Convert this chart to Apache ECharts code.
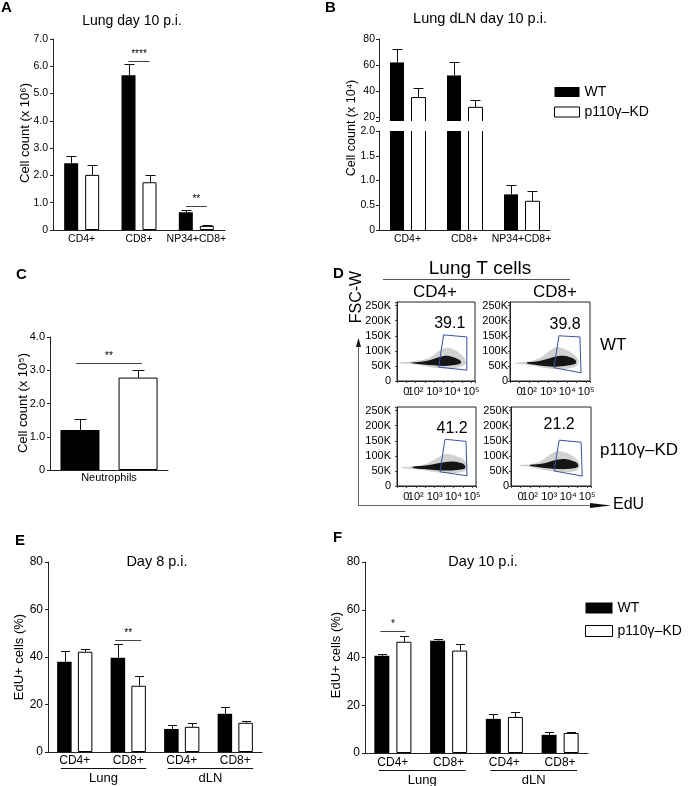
<!DOCTYPE html>
<html><head><meta charset="utf-8">
<script src="https://cdn.jsdelivr.net/npm/echarts@6/dist/echarts.min.js"></script>
<style>html,body{margin:0;padding:0;background:#fff}#c{width:689px;height:786px}</style>
</head><body><div id="c"></div>
<script>
// ---------------- DATA ----------------
const seriesNames = ['WT', 'p110γ–KD'];

// Panel A : Lung day 10 p.i. (x 10^6)
const catsA = ['CD4+', 'CD8+', 'NP34+CD8+'];
const aWT = [2.45, 5.67, 0.65];
const aWTErr = [2.70, 6.07, 0.72];
const aKD = [2.02, 1.75, 0.15];
const aKDErr = [2.40, 2.00, 0.17];
const aSig = [[1, 6.2, '****'], [2, 0.88, '**']];

// Panel B : Lung dLN day 10 p.i. (x 10^4), broken axis
const catsB = ['CD4+', 'CD8+', 'NP34+CD8+'];
const bWT = [62, 52, 0.72];
const bWTErr = [72, 62, 0.90];
const bKD = [35, 27.5, 0.58];
const bKDErr = [42, 33.5, 0.78];
const bUpperLabels = [20, 40, 60, 80];
const bUpperTicks = [17, 20, 40, 60, 80];

// Panel C : Neutrophils (x 10^5)
const catsC = ['Neutrophils'];
const cWT = [1.2];
const cWTErr = [1.52];
const cKD = [2.78];
const cKDErr = [3.02];
const cSig = [[0, 3.22, '**']];

// Panel D : flow plots (x: EdU decades, y: FSC-W in K)
const flowXTickPos = [1.5, 2, 3, 4, 5];
const flowXTickText = ['0', '10²', '10³', '10⁴', '10⁵'];
const flowYTicks = [0, 50, 100, 150, 200, 250];
const flowCols = ['CD4+', 'CD8+'];
const flowRows = ['WT', 'p110γ–KD'];
const gateCD4WT = [[3.51, 153], [4.76, 146], [4.76, 36], [3.24, 46]];
const gateCD8WT = [[3.57, 150], [4.67, 146], [4.73, 27], [3.31, 44]];
const gateCD4KD = [[3.55, 155], [4.67, 148], [4.72, 34], [3.29, 47]];
const gateCD8KD = [[3.53, 152], [4.68, 145], [4.74, 33], [3.26, 50]];
const coreCD4WT = [[1.75,61],[2.3,64],[2.8,70],[3.2,78],[3.6,84],[4.0,80],[4.3,72],[4.45,64],[4.4,57],[4.0,52],[3.5,50],[3.0,52],[2.4,55],[1.9,58]];
const haloCD4WT = [[1.15,62],[1.8,65],[2.5,72],[3.0,88],[3.4,105],[3.8,110],[4.3,95],[4.65,74],[4.7,56],[4.3,45],[3.6,42],[2.8,46],[2.2,53],[1.6,57],[1.15,59]];
const coreCD8WT = [[1.9,62],[2.4,65],[2.9,72],[3.3,80],[3.8,84],[4.2,78],[4.45,68],[4.45,58],[4.0,51],[3.4,47],[2.8,50],[2.3,54],[1.9,58]];
const haloCD8WT = [[1.25,60],[2.0,65],[2.6,78],[3.0,96],[3.4,112],[3.9,105],[4.4,86],[4.6,68],[4.5,50],[4.0,41],[3.3,40],[2.6,46],[2.0,53],[1.25,57]];
const coreCD4KD = [[1.85,64],[2.4,67],[3.0,73],[3.5,79],[4.0,81],[4.4,76],[4.6,69],[4.6,58],[4.2,53],[3.6,51],[3.0,53],[2.4,56],[1.85,60]];
const haloCD4KD = [[1.25,62],[2.0,66],[2.6,75],[3.1,92],[3.6,106],[4.1,100],[4.6,84],[4.75,64],[4.6,49],[3.9,43],[3.2,45],[2.5,51],[1.9,56],[1.25,59]];
const coreCD8KD = [[2.0,70],[2.5,73],[3.0,80],[3.4,87],[3.9,89],[4.3,82],[4.5,74],[4.5,63],[4.1,57],[3.5,56],[2.9,59],[2.4,63],[2.0,66]];
const haloCD8KD = [[1.45,70],[2.1,73],[2.6,84],[3.0,102],[3.4,115],[3.9,110],[4.4,92],[4.6,74],[4.5,53],[3.9,46],[3.2,48],[2.5,56],[2.0,63],[1.45,67]];
const pctCD4WT = [[3.84, 189, '39.1']];
const pctCD8WT = [[3.89, 187, '39.8']];
const pctCD4KD = [[3.93, 192, '41.2']];
const pctCD8KD = [[3.53, 205, '21.2']];

// Panels E / F : EdU+ cells (%)
const catsEF = ['CD4+', 'CD8+', 'CD4+', 'CD8+'];
const tissueGroups = [['Lung', 0, 1], ['dLN', 2, 3]];
const eWT = [38.0, 39.7, 9.7, 16.1];
const eWTErr = [42.7, 45.5, 11.2, 19.1];
const eKD = [42.2, 27.9, 10.6, 12.3];
const eKDErr = [43.3, 31.8, 12.2, 13.0];
const eSig = [[1, 47.2, '**']];
const fWT = [40.7, 47.0, 14.3, 7.6];
const fWTErr = [41.4, 47.8, 16.3, 8.8];
const fKD = [46.6, 42.9, 15.1, 8.4];
const fKDErr = [49.2, 45.6, 17.2, 8.9];
const fSig = [[0, 51, '*']];

// ---------------- CHART ----------------
const FONT = "'Liberation Sans', Arial, Helvetica, sans-serif";
const AXC = '#222';
const chart = echarts.init(document.getElementById('c'), null, {renderer: 'canvas', width: 689, height: 786});

const fmt1 = v => v === 0 ? '0' : v.toFixed(1);
const efIds = catsEF.map((c, i) => i + '_' + c);
const efFmt = (v, i) => catsEF[i];

function xCat(gi, data, o) {
  return {type: 'category', gridIndex: gi, data: data,
    axisLine: {show: true, lineStyle: {color: AXC, width: 1}}, axisTick: {show: false},
    axisLabel: {fontSize: o.fs, color: '#000', margin: o.margin, interval: 0, fontFamily: FONT, formatter: o.fmt},
    splitLine: {show: false}};
}
function yVal(gi, min, max, interval, o) {
  const ax = {type: 'value', gridIndex: gi, min: min, max: max,
    axisLine: {show: true, lineStyle: {color: AXC, width: 1}},
    axisTick: {show: true, length: 3, lineStyle: {color: AXC}},
    axisLabel: {fontSize: o.fs, color: '#000', margin: o.margin || 5, fontFamily: FONT},
    splitLine: {show: false}};
  if (interval) ax.interval = interval;
  if (o.fmt) ax.axisLabel.formatter = o.fmt;
  if (o.labelVals) ax.axisLabel.customValues = o.labelVals;
  if (o.tickVals) ax.axisTick.customValues = o.tickVals;
  return ax;
}
function flowX(gi) {
  return {type: 'value', gridIndex: gi, min: 1, max: 5.2, interval: 0.5,
    axisLine: {show: true, lineStyle: {color: AXC}}, axisTick: {show: true, length: 2, lineStyle: {color: '#444'}},
    axisLabel: {fontSize: 11, margin: 5, color: '#000', fontFamily: FONT,
      formatter: v => { const k = flowXTickPos.indexOf(v); return k >= 0 ? flowXTickText[k] : ''; }},
    splitLine: {show: false}};
}
function flowY(gi, margin) {
  return {type: 'value', gridIndex: gi, min: 0, max: 262, interval: 50,
    axisLine: {show: true, lineStyle: {color: AXC}}, axisTick: {show: true, length: 2, lineStyle: {color: '#444'}},
    axisLabel: {fontSize: 11, margin: margin, color: '#000', fontFamily: FONT,
      formatter: v => flowYTicks.indexOf(v) >= 0 ? (v === 0 ? '0' : v + 'K') : ''},
    splitLine: {show: false}};
}
function bars(gi, wt, kd, bw, gap, kdHidden) {
  return [
    {type: 'bar', name: seriesNames[0], xAxisIndex: gi, yAxisIndex: gi, data: wt, barWidth: bw, barGap: gap,
      clip: true, silent: true, itemStyle: {color: '#000', borderColor: '#000', borderWidth: 0}},
    {type: 'bar', name: seriesNames[1], xAxisIndex: gi, yAxisIndex: gi, data: kd, barWidth: bw, barGap: gap,
      clip: true, silent: true,
      itemStyle: kdHidden ? {color: 'rgba(0,0,0,0)', borderWidth: 0} : {color: '#fff', borderColor: '#000', borderWidth: 1}}
  ];
}
function openBars(gi, vals, offset, bw) {
  return {type: 'custom', xAxisIndex: gi, yAxisIndex: gi, clip: true, silent: true, z: 3,
    data: vals.map((v, i) => [i, v]),
    renderItem: (p, api) => {
      const t = api.coord([api.value(0), api.value(1)]);
      const b = api.coord([api.value(0), 0]);
      const xl = Math.round(t[0] + offset - bw / 2) + 0.5, xr = Math.round(t[0] + offset + bw / 2) - 0.5;
      return {type: 'polyline', shape: {points: [[xl, b[1]], [xl, t[1]], [xr, t[1]], [xr, b[1]]]},
        style: {stroke: '#000', lineWidth: 1, fill: null}};
    }};
}
function errBars(gi, vals, errs, offset, cap) {
  return {type: 'custom', xAxisIndex: gi, yAxisIndex: gi, clip: true, silent: true, z: 3,
    data: vals.map((v, i) => [i, v, errs[i]]),
    renderItem: (p, api) => {
      const a = api.coord([api.value(0), api.value(1)]);
      const b = api.coord([api.value(0), api.value(2)]);
      const x = Math.round(a[0] + offset) + 0.5;
      const y = Math.round(b[1]) + 0.5;
      return {type: 'group', children: [
        {type: 'line', shape: {x1: x, y1: a[1], x2: x, y2: y}, style: {stroke: '#111', lineWidth: 1}},
        {type: 'line', shape: {x1: x - cap, y1: y, x2: x + cap, y2: y}, style: {stroke: '#111', lineWidth: 1}}
      ]};
    }};
}
function sigLines(gi, sigs, offset, fs) {
  return {type: 'custom', xAxisIndex: gi, yAxisIndex: gi, clip: false, silent: true, z: 4,
    data: sigs.map(s => [s[0], s[1]]),
    renderItem: (p, api) => {
      const c = api.coord([api.value(0), api.value(1)]);
      const y = Math.round(c[1]) + 0.5;
      return {type: 'group', children: [
        {type: 'line', shape: {x1: c[0] - offset, y1: y, x2: c[0] + offset, y2: y}, style: {stroke: '#444', lineWidth: 1}},
        {type: 'text', x: c[0], y: y - 2, style: {text: sigs[p.dataIndex][2], font: fs + 'px ' + FONT, fill: '#000',
          align: 'center', verticalAlign: 'bottom', textAlign: 'center', textVerticalAlign: 'bottom'}}
      ]};
    }};
}
function tissueLines(gi, groups, padL, padR, dy, fs) {
  return {type: 'custom', xAxisIndex: gi, yAxisIndex: gi, clip: false, silent: true,
    data: groups.map(g => [g[1], 0, g[2]]),
    renderItem: (p, api) => {
      const a = api.coord([api.value(0), 0]);
      const b = api.coord([api.value(2), 0]);
      const x1 = a[0] - padL, x2 = b[0] + padR, y = Math.round(a[1] + dy) + 0.5;
      return {type: 'group', children: [
        {type: 'line', shape: {x1: x1, y1: y, x2: x2, y2: y}, style: {stroke: '#111', lineWidth: 1.2}},
        {type: 'text', x: (x1 + x2) / 2, y: y + 3, style: {text: groups[p.dataIndex][0], font: fs + 'px ' + FONT, fill: '#000',
          align: 'center', verticalAlign: 'top', textAlign: 'center', textVerticalAlign: 'top'}}
      ]};
    }};
}
function poly(gi, pts, style) {
  return {type: 'custom', xAxisIndex: gi, yAxisIndex: gi, clip: true, silent: true, data: pts,
    renderItem: (p, api) => p.dataIndex === 0 ? {type: 'polygon',
      shape: {points: pts.map(q => api.coord(q)), smooth: style.smooth || 0},
      style: {fill: style.fill || null, stroke: style.stroke || null, lineWidth: style.lw || 1, opacity: style.opacity == null ? 1 : style.opacity}} : null};
}
function pctText(gi, items) {
  return {type: 'custom', xAxisIndex: gi, yAxisIndex: gi, clip: false, silent: true, z: 5,
    data: items.map(d => [d[0], d[1]]),
    renderItem: (p, api) => {
      const c = api.coord([api.value(0), api.value(1)]);
      return {type: 'text', x: c[0], y: c[1], style: {text: items[p.dataIndex][2], font: '16px ' + FONT, fill: '#000',
        align: 'center', verticalAlign: 'middle', textAlign: 'center', textVerticalAlign: 'middle'}};
    }};
}
function flowSeries(gi, halo, core, gate, pct) {
  return [
    poly(gi, halo, {fill: '#c9c9c9', smooth: 0.35, opacity: 0.85}),
    poly(gi, core, {fill: '#151515', smooth: 0.35}),
    poly(gi, gate, {stroke: '#3c4fa0', lw: 1}),
    pctText(gi, pct)
  ];
}
function txt(text, x, y, size, opt) {
  opt = opt || {};
  return {type: 'text', x: x, y: y, rotation: opt.rot || 0, silent: true,
    style: {text: text, font: (opt.bold ? 'bold ' : '') + size + 'px ' + (opt.family || FONT), fill: '#000',
      align: opt.align || 'center', verticalAlign: 'middle', textAlign: opt.align || 'center', textVerticalAlign: 'middle'}};
}
function ln(x1, y1, x2, y2, color, w) {
  return {type: 'line', silent: true, shape: {x1: x1, y1: y1, x2: x2, y2: y2}, style: {stroke: color || '#333', lineWidth: w || 1}};
}
function tri(points) {
  return {type: 'polygon', silent: true, shape: {points: points}, style: {fill: '#111'}};
}

const grids = [
  {left: 53, top: 39, width: 172, height: 191},
  {left: 379, top: 39, width: 171, height: 82},
  {left: 379, top: 131, width: 171, height: 99},
  {left: 50, top: 337, width: 118, height: 133},
  {left: 397, top: 302, width: 78, height: 79, show: true, borderColor: '#222', borderWidth: 1},
  {left: 510, top: 302, width: 80, height: 79, show: true, borderColor: '#222', borderWidth: 1},
  {left: 397, top: 407, width: 79, height: 79, show: true, borderColor: '#222', borderWidth: 1},
  {left: 511, top: 407, width: 80, height: 79, show: true, borderColor: '#222', borderWidth: 1},
  {left: 48, top: 562, width: 214, height: 190},
  {left: 365, top: 562, width: 223, height: 191}
];

const xAxes = [
  xCat(0, catsA, {fs: 10.5, margin: 4}),
  {type: 'category', gridIndex: 1, data: catsB, show: false},
  xCat(2, catsB, {fs: 10.5, margin: 4}),
  xCat(3, catsC, {fs: 11, margin: 2}),
  flowX(4), flowX(5), flowX(6), flowX(7),
  xCat(8, efIds, {fs: 12, margin: 3, fmt: efFmt}),
  xCat(9, efIds, {fs: 12, margin: 3.5, fmt: efFmt})
];
const yAxes = [
  yVal(0, 0, 7, 1, {fs: 10.5, fmt: fmt1}),
  yVal(1, 17, 80, null, {fs: 10.5, margin: 4, labelVals: bUpperLabels, tickVals: bUpperTicks}),
  yVal(2, 0, 2, 0.5, {fs: 10.5, margin: 4, fmt: fmt1}),
  yVal(3, 0, 4, 1, {fs: 11, fmt: fmt1}),
  flowY(4, 6), flowY(5, 2), flowY(6, 6), flowY(7, 2),
  yVal(8, 0, 80, 20, {fs: 12}),
  yVal(9, 0, 80, 20, {fs: 12})
];

const series = [].concat(
  bars(0, aWT, aKD, 14, '50%'),
  [errBars(0, aWT, aWTErr, -10.5, 5), errBars(0, aKD, aKDErr, 10.5, 5), sigLines(0, aSig, 10.5, 10)],
  bars(1, bWT, bKD, 14, '50%', true),
  [openBars(1, bKD, 10.5, 15), errBars(1, bWT, bWTErr, -10.5, 5), errBars(1, bKD, bKDErr, 10.5, 5)],
  bars(2, bWT, bKD, 14, '50%', true),
  [openBars(2, bKD, 10.5, 15), errBars(2, bWT, bWTErr, -10.5, 5), errBars(2, bKD, bKDErr, 10.5, 5)],
  bars(3, cWT, cKD, 39, '49%'),
  [errBars(3, cWT, cWTErr, -29, 6), errBars(3, cKD, cKDErr, 29, 6), sigLines(3, cSig, 33, 10)],
  flowSeries(4, haloCD4WT, coreCD4WT, gateCD4WT, pctCD4WT),
  flowSeries(5, haloCD8WT, coreCD8WT, gateCD8WT, pctCD8WT),
  flowSeries(6, haloCD4KD, coreCD4KD, gateCD4KD, pctCD4KD),
  flowSeries(7, haloCD8KD, coreCD8KD, gateCD8KD, pctCD8KD),
  bars(8, eWT, eKD, 14.5, '43%'),
  [errBars(8, eWT, eWTErr, -10.25, 4.5), errBars(8, eKD, eKDErr, 10.25, 4.5), sigLines(8, eSig, 13, 10),
   tissueLines(8, tissueGroups, 14, 18, 16, 13)],
  bars(9, fWT, fKD, 15, '47%'),
  [errBars(9, fWT, fWTErr, -11, 4.5), errBars(9, fKD, fKDErr, 11, 4.5), sigLines(9, fSig, 12.5, 10),
   tissueLines(9, tissueGroups, 14, 17, 17, 13)]
);

const legendData = [
  {name: seriesNames[0], itemStyle: {color: '#000', borderColor: '#000', borderWidth: 0}},
  {name: seriesNames[1], itemStyle: {color: '#fff', borderColor: '#000', borderWidth: 1}}
];
const legends = [
  {data: legendData, left: 554, top: 85, orient: 'vertical', itemWidth: 25, itemHeight: 10, itemGap: 6, icon: 'rect',
    selectedMode: false, padding: 0, textStyle: {fontSize: 14, fontFamily: FONT, color: '#000'}},
  {data: legendData, left: 585, top: 601, orient: 'vertical', itemWidth: 27, itemHeight: 11, itemGap: 9, icon: 'rect',
    selectedMode: false, padding: 0, textStyle: {fontSize: 14, fontFamily: FONT, color: '#000'}}
];

const graphics = [
  txt('A', 1, 8, 15, {bold: true, align: 'left'}),
  txt('B', 325, 8, 15, {bold: true, align: 'left'}),
  txt('C', 16, 275, 15, {bold: true, align: 'left'}),
  txt('D', 333, 274, 15, {bold: true, align: 'left'}),
  txt('E', 15, 541, 15, {bold: true, align: 'left'}),
  txt('F', 333, 538, 15, {bold: true, align: 'left'}),
  txt('Lung day 10 p.i.', 132, 21, 14),
  txt('Lung dLN day 10 p.i.', 480, 18.5, 14.5),
  txt('Cell count (x 10⁶)', 25, 133, 13, {rot: Math.PI / 2}),
  txt('Cell count (x 10⁴)', 352, 128, 12.5, {rot: Math.PI / 2}),
  txt('Cell count (x 10⁵)', 23, 403, 13, {rot: Math.PI / 2}),
  txt('Lung T cells', 480, 269, 19),
  ln(383, 279.5, 570, 279.5, '#555', 1),
  txt(flowCols[0], 435, 292, 17),
  txt(flowCols[1], 555, 292, 17),
  txt(flowRows[0], 600, 345, 17, {align: 'left'}),
  txt(flowRows[1], 600, 450, 17, {align: 'left'}),
  txt('FSC-W', 357, 297, 16, {rot: Math.PI / 2}),
  ln(358.5, 505, 358.5, 345, '#666', 1),
  tri([[358.5, 338], [356, 347], [361, 347]]),
  ln(358, 505.5, 592, 505.5, '#666', 1),
  tri([[611, 505.5], [590, 503], [590, 508]]),
  txt('EdU', 613, 505, 16, {align: 'left'}),
  txt('EdU+ cells (%)', 19, 657, 13, {rot: Math.PI / 2}),
  txt('EdU+ cells (%)', 336, 655, 13, {rot: Math.PI / 2}),
  txt('Day 8 p.i.', 157, 562, 14.5),
  txt('Day 10 p.i.', 483, 562, 14.5)
];

chart.setOption({
  animation: false,
  backgroundColor: '#fff',
  textStyle: {fontFamily: FONT},
  grid: grids,
  xAxis: xAxes,
  yAxis: yAxes,
  legend: legends,
  series: series,
  graphic: graphics
});
</script>
</body></html>
